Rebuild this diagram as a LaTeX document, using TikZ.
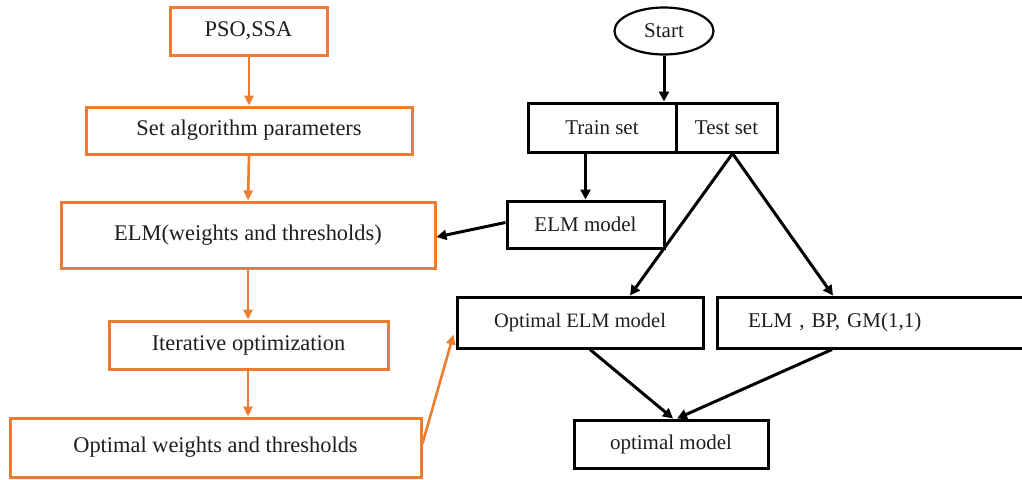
\documentclass[tikz,border=0pt]{standalone}
\usepackage{fontspec}
\setmainfont{Liberation Serif}
\usetikzlibrary{arrows.meta,shapes.geometric}
\definecolor{flow}{RGB}{237,125,49}
\definecolor{ink}{RGB}{30,30,30}
\tikzset{
  base/.style={rectangle, inner sep=0pt, font=\fontsize{21}{24}\selectfont, text=ink},
  obox/.style={base, draw=flow, line width=3pt, font=\fontsize{22.4}{26}\selectfont},
  kbox/.style={base, draw=black, line width=3pt},
  oarrow/.style={draw=flow, line width=2.6pt, -{Triangle[length=10pt,width=9pt]}},
  karrow/.style={draw=black, line width=3pt, -{Triangle[length=10pt,width=10pt]}},
}
\begin{document}
\begin{tikzpicture}[x=1pt,y=-1pt]
\useasboundingbox (0,0) rectangle (1022,479);
\fill[white] (0,0) rectangle (1022,479);

% optimisation chain (left)
\node[obox, minimum width=157pt, minimum height=48pt] (pso) at (248.5,31) {PSO,SSA};
\node[obox, minimum width=326pt, minimum height=47pt] (par) at (249,130.5) {Set algorithm parameters};
\node[obox, minimum width=374pt, minimum height=66pt] (elmw) at (248,235) {ELM(weights and thresholds)};
\node[obox, minimum width=279pt, minimum height=48pt] (iter) at (248.5,345) {Iterative optimization};
\node[obox, minimum width=411pt, minimum height=59pt] (owt) at (215.5,447.5) {Optimal weights and thresholds};

\draw[oarrow] (pso.south -| par.north) -- (par.north);
\draw[oarrow] (par.south) -- (elmw.north);
\draw[oarrow] (elmw.south) -- (iter.north -| elmw.south);
\draw[oarrow] (iter.south -| elmw.south) -- (owt.north -| elmw.south);

% model selection (right)
\node[ellipse, draw=black, line width=2.2pt, minimum width=99pt, minimum height=47pt, inner sep=0pt,
      font=\fontsize{21}{24}\selectfont, text=ink] (start) at (664,31) {Start};
\node[kbox, minimum width=148pt, minimum height=49pt] (train) at (602,127.5) {Train set};
\node[kbox, minimum width=101pt, minimum height=49pt] (test) at (726.5,127.5) {Test set};
\node[kbox, minimum width=157pt, minimum height=47pt] (elmm) at (585.5,224.5) {ELM model};
\node[kbox, minimum width=246pt, minimum height=51pt, font=\fontsize{20.5}{24}\selectfont] (optm) at (580,322.5) {Optimal ELM model};
\node[kbox, minimum width=320pt, minimum height=51pt, text width=300pt, align=left] (cmp) at (877,322.5)
      {\hspace*{21pt}ELM , BP, GM(1,1)};
\node[kbox, minimum width=194pt, minimum height=48pt] (best) at (671,444) {optimal model};

\draw[karrow] (start.south) -- (start.south |- train.north);
\draw[karrow] (train.south -| elmm.north) -- (elmm.north);
\draw[karrow] ([yshift=2pt]elmm.west) -- ([yshift=-2pt]elmw.east);
\draw[karrow] ([xshift=6pt]test.south) -- ([xshift=50pt]optm.north);
\draw[karrow] ([xshift=6pt]test.south) -- ([xshift=-44pt]cmp.north);
\draw[karrow] ([xshift=10pt]optm.south) -- ([xshift=2pt]best.north);
\draw[karrow] ([xshift=-45pt]cmp.south) -- ([xshift=6pt]best.north);

\draw[oarrow] ([yshift=4pt]owt.east) -- ([xshift=-2pt,yshift=-12pt]optm.west);
\end{tikzpicture}
\end{document}
